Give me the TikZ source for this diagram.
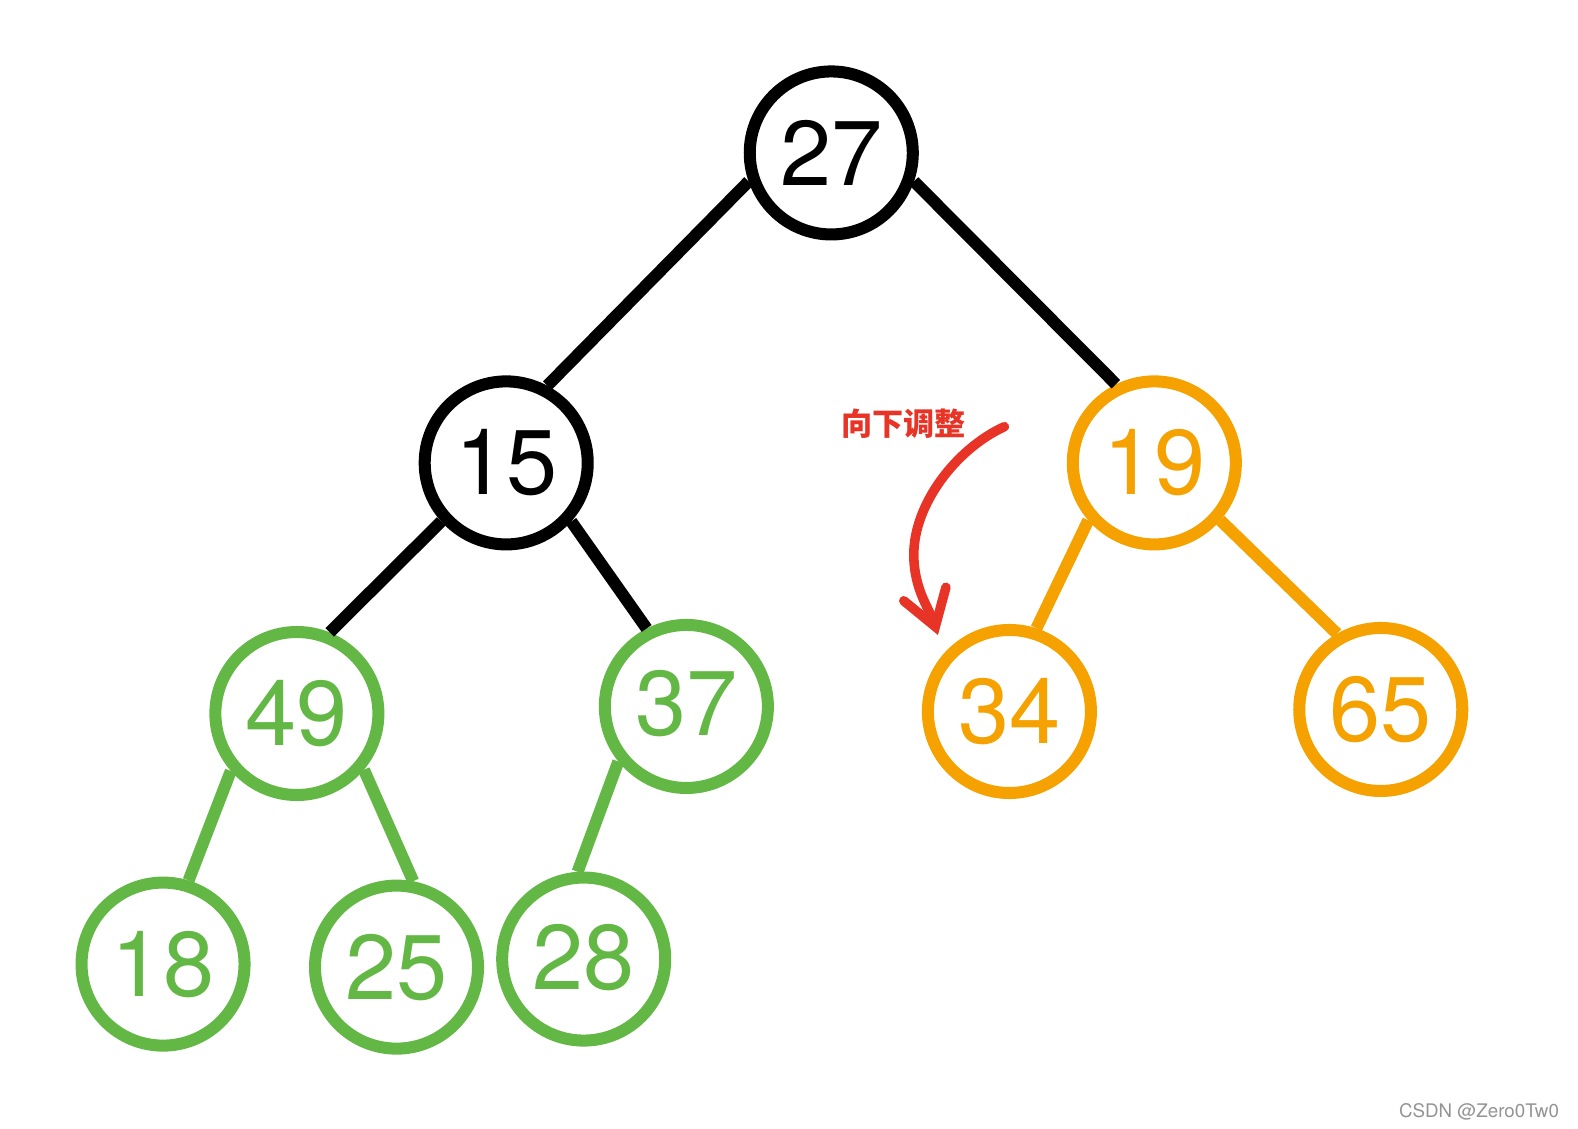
\documentclass[tikz,border=0pt]{standalone}
\usepackage{fontspec}
\setmainfont{TeX Gyre Heros}
\newfontfamily\cjk{Noto Sans CJK SC}
\usetikzlibrary{arrows.meta}
\definecolor{naranja}{RGB}{245,161,0}
\definecolor{verde}{RGB}{99,184,69}
\definecolor{rojo}{RGB}{232,52,38}

\begin{document}
\begin{tikzpicture}[line width=3.4pt,
  nodo/.style={circle, draw, minimum size=1.62cm, inner sep=0pt,
    font=\fontsize{26}{26}\selectfont},
  >={Straight Barb[length=3.4mm, width=4.4mm, line cap=round]}]
  \useasboundingbox (0,0) rectangle (15.68,11.21);
  % raiz y segundo nivel
  \node[nodo] (n27) at (8.26,9.69) {27};
  \node[nodo] (n15) at (5.03,6.61) {15};
  \node[nodo, naranja] (n19) at (11.47,6.61) {19};
  % tercer nivel
  \node[nodo, verde] (n49) at (2.95,4.12) {49};
  \node[nodo, verde] (n37) at (6.82,4.19) {\raisebox{0.07cm}{37}};
  \node[nodo, naranja] (n34) at (10.03,4.14) {34};
  \node[nodo, naranja] (n65) at (13.72,4.16) {65};
  % hojas
  \node[nodo, verde] (n18) at (1.62,1.63) {18};
  \node[nodo, verde] (n25) at (3.94,1.60) {25};
  \node[nodo, verde] (n28) at (5.80,1.68) {\raisebox{0.05cm}{28}};
  % aristas (no van por los centros)
  \draw (n27.199)--(n15.62); \draw (n27.341)--(n19.116);
  \draw (n15.222)--(n49.68); \draw (n15.318)--(n37.117);
  \draw[naranja] (n19.221)--(n34.72); \draw[naranja] (n19.319)--(n65.120);
  \draw[verde] (n49.221)--(n18.73); \draw[verde] (n49.320)--(n25.79);
  \draw[verde] (n37.219)--(n28.94);
  % flecha roja
  \coordinate (ini) at (9.98,6.97);
  \coordinate (fin) at (9.32,4.90);
  \draw[rojo, ->, line width=2.7pt, line cap=round]
    (ini) .. controls (9.5,6.75) and (9.08,6.2) .. (9.08,5.7)
          .. controls (9.08,5.35) and (9.24,5.15) .. (fin);
  \node[rojo, font=\cjk\bfseries\fontsize{8.8}{9}\selectfont] (txt) at (8.98,7.00) {向下调整};
  % marca de agua
  \node[anchor=base east, inner sep=0pt, text=black!42, font=\fontsize{5.3}{6}\selectfont] (marca) at (15.55,0.11) {CSDN @Zero0Tw0};
\end{tikzpicture}
\end{document}
